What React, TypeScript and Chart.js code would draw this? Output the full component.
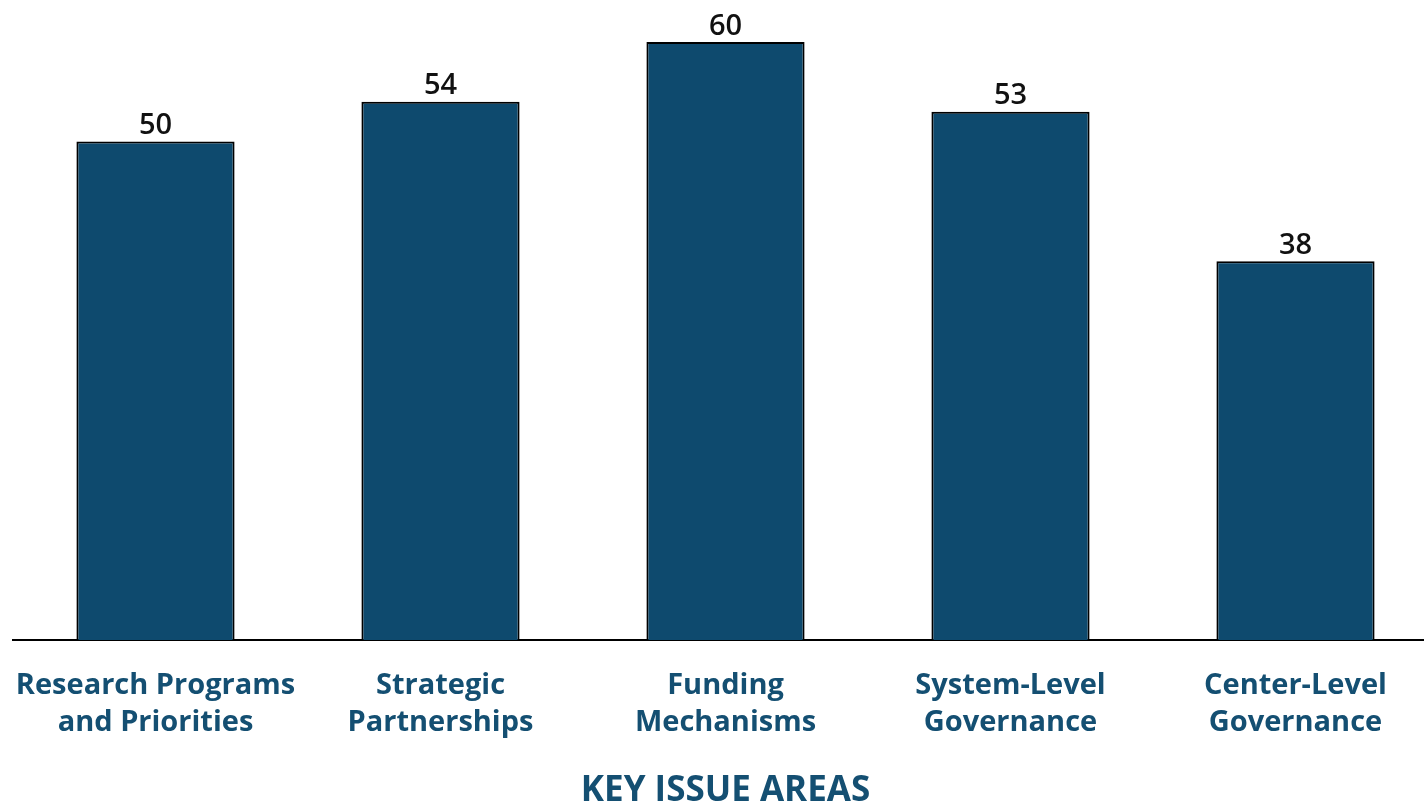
import React, { useEffect, useRef } from "react";
import { Chart, registerables } from "chart.js";

Chart.register(...registerables);

const categories: string[][] = [
  ["Research Programs", "and Priorities"],
  ["Strategic", "Partnerships"],
  ["Funding", "Mechanisms"],
  ["System-Level", "Governance"],
  ["Center-Level", "Governance"],
];
const values: number[] = [50, 54, 60, 53, 38];
const axisTitle = "KEY ISSUE AREAS";

const FONT = "'Open Sans', sans-serif";
const TEXT_BLUE = "#144f72";
const BAR_BLUE = "#0e4a6e";

const valueLabels = {
  id: "valueLabels",
  afterDatasetsDraw(chart: any) {
    const ctx = chart.ctx;
    const meta = chart.getDatasetMeta(0);
    ctx.save();
    ctx.font = `600 29px ${FONT}`;
    ctx.fillStyle = "#111";
    ctx.textAlign = "center";
    ctx.textBaseline = "bottom";
    meta.data.forEach((el: any, i: number) => {
      ctx.fillText(String(values[i]), el.x, el.y - 1);
    });
    ctx.restore();
  },
};

export default function App() {
  const ref = useRef<HTMLCanvasElement | null>(null);
  useEffect(() => {
    document.body.style.margin = "0";
    document.body.style.overflow = "hidden";
    const chart = new Chart(ref.current!, {
      type: "bar",
      data: {
        labels: categories,
        datasets: [
          {
            data: values,
            backgroundColor: BAR_BLUE,
            borderColor: "#000",
            borderWidth: 2,
            barPercentage: 0.555,
            categoryPercentage: 1,
          },
        ],
      },
      options: {
        animation: false,
        responsive: false,
        devicePixelRatio: 1,
        layout: { padding: { left: 13, right: 2, top: 2, bottom: 0 } },
        plugins: { legend: { display: false }, tooltip: { enabled: false } },
        scales: {
          y: { display: false, min: 0, max: 64 },
          x: {
            afterFit: (scale: any) => {
              scale.paddingLeft = 0;
              scale.paddingRight = 0;
            },
            grid: { display: false, drawTicks: false },
            border: { display: true, color: "#000", width: 2 },
            ticks: {
              padding: 28,
              color: TEXT_BLUE,
              font: { family: FONT, size: 29, weight: 700, lineHeight: 1.25 },
              maxRotation: 0,
              autoSkip: false,
            },
            title: {
              display: true,
              text: axisTitle,
              color: TEXT_BLUE,
              font: { family: FONT, size: 35, weight: 700, lineHeight: 0.9 },
              padding: { top: 7, bottom: 0 },
            },
          },
        },
      },
      plugins: [valueLabels],
    });
    return () => chart.destroy();
  }, []);
  return (
    <div style={{ width: 1424, height: 807, overflow: "hidden" }}>
      <canvas ref={ref} width={1440} height={807} style={{ display: "block" }} />
    </div>
  );
}
